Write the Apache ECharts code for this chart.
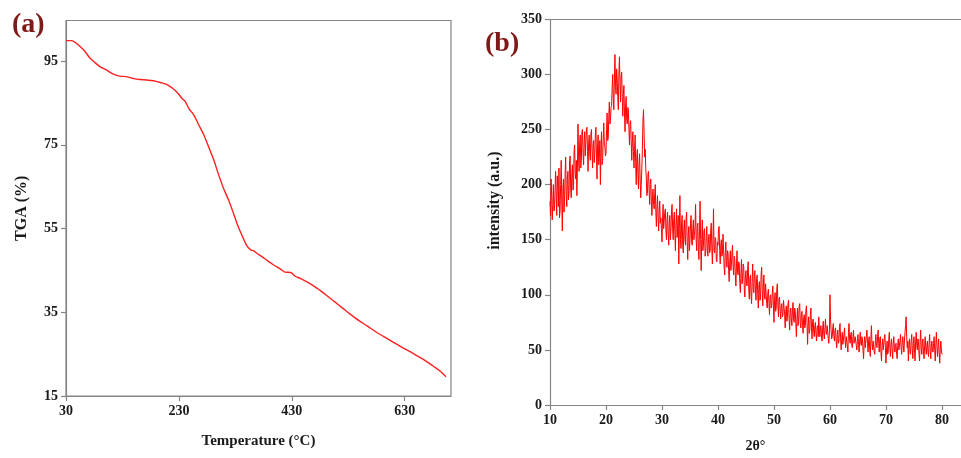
<!DOCTYPE html>
<html>
<head>
<meta charset="utf-8">
<script src="https://cdn.jsdelivr.net/npm/echarts@6/dist/echarts.min.js"></script>
<style>
html,body{margin:0;padding:0;background:#fff;}
#c{width:961px;height:458px;}
</style>
</head>
<body>
<div id="c"></div>
<script>
// ---- Panel (a): TGA ----
var tgaTemp = [30,40,48,55,63,72,80,90,100,114,125,137,150,161,173,185,197,209,220,229,236,241,248,256,265,274,283,292,300,309,318,327,334,342,350,357,362,368,377,386,398,410,418,428,436,445,460,475,490,505,520,534,549,564,578,593,608,623,638,652,667,682,693,703];
var tgaValue = [99.9,99.9,99.3,98.5,97.4,95.8,94.8,93.7,93.0,91.9,91.4,91.3,90.8,90.6,90.5,90.3,89.9,89.4,88.4,87.2,86.0,85.4,83.6,82.2,79.8,77.4,74.4,71.3,68.0,64.6,61.8,58.5,55.8,53.3,51.0,49.9,49.7,49.1,48.3,47.4,46.3,45.3,44.6,44.5,43.6,43.1,42.0,40.7,39.2,37.6,36.0,34.5,33.0,31.7,30.4,29.2,28.0,26.8,25.7,24.6,23.4,22.0,20.9,19.6];
var tgaXTicks = [30,230,430,630];
var tgaYTicks = [15,35,55,75,95];

// ---- Panel (b): XRD, 2θ from 10 to 80 step 0.1 (one row per degree) ----
var xrdStart = 10, xrdStep = 0.1;
var xrdIntensity = [
185,172,205,190,168,182,200,176,178,195,
212,190,172,208,198,180,215,170,176,200,
222,185,158,196,205,175,185,210,225,190,
180,205,212,186,192,222,226,195,188,210,
218,195,198,230,236,210,205,222,190,215,
255,225,212,238,245,215,222,248,250,228,
218,240,248,226,225,250,252,230,212,238,
245,228,222,246,250,232,215,236,240,220,
228,245,252,225,205,236,245,218,225,240,
200,232,248,218,222,240,256,238,235,226,
228,250,265,240,242,262,275,255,258,270,
272,288,300,278,268,295,318,290,282,305,
296,280,268,300,316,292,275,298,302,280,
262,282,290,265,248,272,280,258,255,270,
268,250,236,255,258,240,222,238,248,230,
215,232,245,220,200,225,232,210,196,218,
228,205,188,200,215,232,258,268,248,225,
232,215,205,190,192,210,212,195,182,200,
205,185,172,190,196,182,178,192,200,175,
162,180,190,170,158,176,185,165,170,160,
148,170,182,160,160,175,178,158,150,168,
175,155,145,165,172,150,158,176,182,160,
150,168,175,155,140,165,178,152,162,172,
128,160,190,150,142,165,172,145,138,160,
168,150,145,170,175,148,132,155,162,140,
150,165,172,148,145,160,168,150,155,162,
182,150,140,162,165,140,132,160,185,150,
122,150,168,140,145,158,160,135,138,152,
162,140,135,150,155,138,140,158,165,142,
128,150,178,140,138,152,150,132,130,148,
145,160,162,140,128,145,150,135,138,155,
140,125,118,138,148,130,125,140,138,122,
112,130,140,122,128,138,145,125,118,135,
132,118,108,126,140,120,118,130,128,110,
102,120,132,110,115,128,125,105,98,118,
122,110,108,124,130,105,96,115,118,100,
92,112,128,105,102,120,122,100,95,115,
118,100,88,108,112,95,98,118,125,105,
90,108,118,98,96,110,110,92,88,102,
105,92,82,98,100,88,90,102,108,90,
75,95,102,85,88,105,110,90,80,96,
98,85,78,90,92,80,82,95,95,82,
70,85,90,76,80,92,95,78,68,84,
88,78,72,86,93,78,75,88,85,74,
62,78,88,72,76,90,92,74,70,82,
85,72,65,78,82,70,72,86,90,75,
55,72,80,65,68,82,88,70,60,76,
78,66,62,72,75,64,58,70,72,62,
80,68,62,70,72,60,58,70,76,64,
60,70,78,66,64,72,72,60,56,66,
100,78,68,60,62,70,74,62,58,68,
70,58,52,64,68,56,58,70,74,60,
50,60,66,55,56,64,70,58,52,62,
62,54,48,66,74,60,56,64,66,54,
52,62,68,56,56,62,62,54,50,60,
64,55,48,58,66,56,54,62,60,50,
42,56,62,52,52,62,68,56,48,58,
62,50,44,60,72,56,50,58,58,48,
46,58,64,54,52,62,68,56,48,60,
62,48,40,54,60,50,50,60,64,52,
38,50,58,46,48,60,66,52,44,56,
60,50,42,56,62,52,48,54,56,46,
42,54,60,50,50,58,64,52,46,56,
62,54,48,58,66,72,80,62,52,58,
40,54,60,48,46,58,64,50,42,56,
62,48,40,58,66,54,50,60,58,46,
40,58,68,52,46,56,60,48,42,54,
62,52,46,54,58,48,44,56,64,50,
42,52,58,50,48,56,62,50,40,54,
66,54,44,52,60,48,38,50,58,50,
46
];
var xrdXTicks = [10,20,30,40,50,60,70,80];
var xrdYTicks = [0,50,100,150,200,250,300,350];

var tgaData = tgaTemp.map(function(t,i){return [t,tgaValue[i]];});
var xrdData = xrdIntensity.map(function(v,i){return [+(xrdStart+i*xrdStep).toFixed(1), v];});

var FONT = '"Liberation Serif","Times New Roman",serif';
var AX = '#858585';
function axisCommon(){
  return {
    axisLine:{show:true,lineStyle:{color:AX,width:1.2}},
    axisTick:{show:true,inside:false,length:5,lineStyle:{color:AX,width:1.2}},
    splitLine:{show:false},
    axisLabel:{fontFamily:FONT,fontWeight:'bold',fontSize:14,color:'#1a1a1a',showMaxLabel:false},
    nameTextStyle:{fontFamily:FONT,fontWeight:'bold',color:'#1a1a1a'}
  };
}
function merge(a,b){for(var k in b){a[k]=b[k];}return a;}

var chart = echarts.init(document.getElementById('c'), null, {renderer:'canvas'});
chart.setOption({
  animation:false,
  backgroundColor:'#fff',
  grid:[
    {left:66,top:20.5,width:385,height:375.5,show:true,borderColor:AX,borderWidth:1.2,backgroundColor:'transparent'},
    {left:550,top:19.3,width:411,height:390.7,show:false}
  ],
  xAxis:[
    merge(axisCommon(),{type:'value',gridIndex:0,min:tgaXTicks[0],max:712,interval:tgaXTicks[1]-tgaXTicks[0],
      name:'Temperature (°C)',nameLocation:'middle',nameGap:38,
      nameTextStyle:{fontFamily:FONT,fontWeight:'bold',fontSize:15,color:'#1a1a1a'}}),
    merge(axisCommon(),{type:'value',gridIndex:1,min:xrdXTicks[0],max:83.4,interval:xrdXTicks[1]-xrdXTicks[0],
      name:'2θ°',nameLocation:'middle',nameGap:34,
      nameTextStyle:{fontFamily:FONT,fontWeight:'bold',fontSize:14,color:'#1a1a1a'}}),
    {type:'value',gridIndex:1,position:'top',min:xrdXTicks[0],max:83.4,
      axisLine:{show:true,lineStyle:{color:AX,width:1.2}},axisTick:{show:false},axisLabel:{show:false},splitLine:{show:false}}
  ],
  yAxis:[
    merge(axisCommon(),{type:'value',gridIndex:0,min:tgaYTicks[0],max:104.7,interval:tgaYTicks[1]-tgaYTicks[0],
      name:'TGA (%)',nameLocation:'middle',nameGap:36,
      nameTextStyle:{fontFamily:FONT,fontWeight:'bold',fontSize:16,color:'#1a1a1a'}}),
    merge(axisCommon(),{type:'value',gridIndex:1,min:xrdYTicks[0],max:xrdYTicks[xrdYTicks.length-1],interval:xrdYTicks[1]-xrdYTicks[0],
      name:'intensity (a.u.)',nameLocation:'middle',nameGap:47,
      axisLabel:{fontFamily:FONT,fontWeight:'bold',fontSize:14,color:'#1a1a1a',showMaxLabel:true},
      nameTextStyle:{fontFamily:FONT,fontWeight:'bold',fontSize:16,color:'#1a1a1a',padding:[0,0,0,23]}})
  ],
  series:[
    {type:'line',xAxisIndex:0,yAxisIndex:0,data:tgaData,showSymbol:false,smooth:0.3,
      lineStyle:{color:'#ff2020',width:1.4}},
    {type:'line',xAxisIndex:1,yAxisIndex:1,data:xrdData,showSymbol:false,
      lineStyle:{color:'#ff0000',width:1}}
  ],
  graphic:[
    {type:'text',left:12,top:11,style:{text:'(a)',font:'bold 28px '+FONT,fill:'#7f1a1a'}},
    {type:'text',left:485,top:30,style:{text:'(b)',font:'bold 28px '+FONT,fill:'#7f1a1a'}}
  ]
});
</script>
</body>
</html>
